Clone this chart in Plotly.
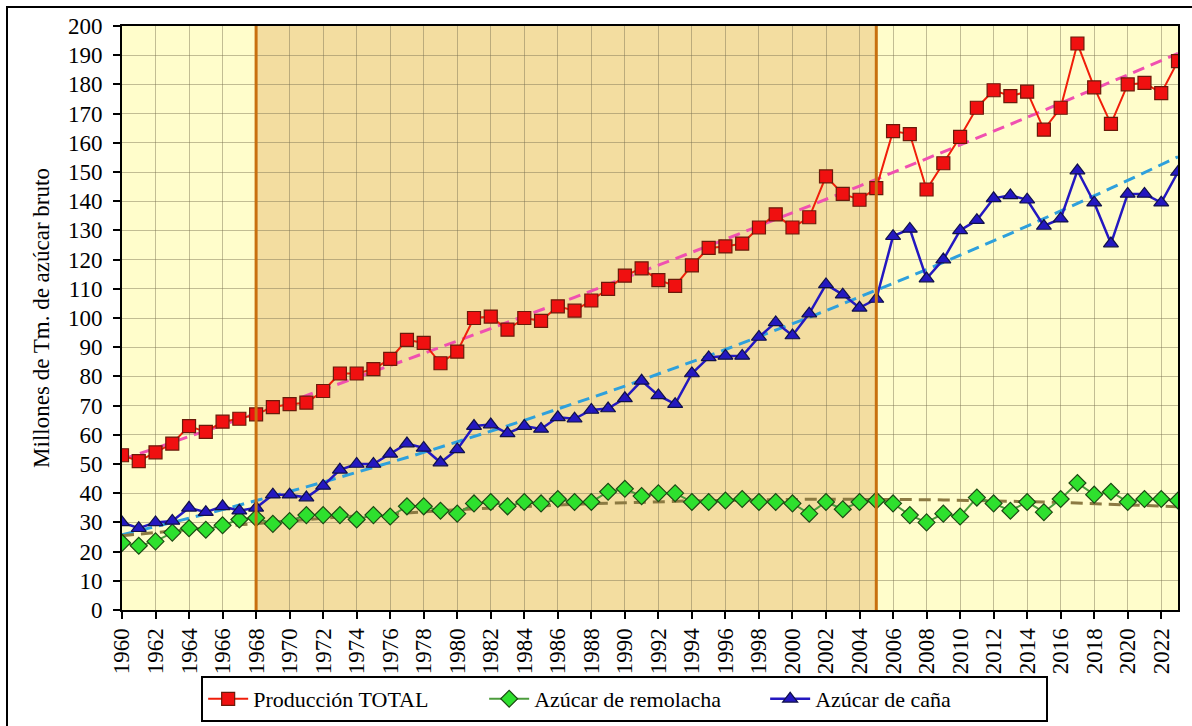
import numpy as np
import plotly.graph_objects as go

years = list(range(1960, 2024))

total = [53, 51, 54, 57, 63, 61, 64.5, 65.5, 67, 69.5,
         70.5, 71, 75, 81, 81, 82.5, 86, 92.5, 91.5, 84.5,
         88.5, 100, 100.5, 96, 100, 99, 104, 102.5, 106, 110,
         114.5, 117, 113, 111, 118, 124, 124.5, 125.5, 131, 135.5,
         131, 134.5, 148.5, 142.5, 140.5, 144.5, 164, 163, 144, 153,
         162, 172, 178, 176, 177.5, 164.5, 172, 194, 179, 166.5,
         180, 180.5, 177, 188]

cane = [30, 28, 30, 30.5, 35, 33.5, 35.5, 34, 35, 39.5,
        39.5, 38.5, 42.5, 48, 50, 50, 53.5, 57, 55.5, 50.5,
        55, 63, 63.5, 60.5, 63, 62, 66, 65.5, 68.5, 69,
        72.5, 78.5, 73.5, 70.5, 81, 86.5, 87, 87, 93.5, 98.5,
        94, 101.5, 111.5, 108, 103.5, 106.5, 128, 130.5, 113.5, 120,
        130, 133.5, 141, 142, 140.5, 131.5, 134, 150.5, 139.5, 125.5,
        142.5, 142.5, 139.5, 150]

beet = [23, 22, 23.5, 26.5, 28, 27.5, 29, 31, 31.5, 29.5,
        30.5, 32.5, 32.5, 32.5, 31, 32.5, 32, 35.5, 35.5, 34,
        33, 36.5, 37, 35.5, 37, 36.5, 38, 37, 37, 40.5,
        41.5, 39, 40, 40, 37, 37, 37.5, 38, 37, 37,
        36.5, 33, 37, 34.5, 37, 37.5, 36.5, 32.5, 30, 33,
        32, 38.5, 36.5, 34, 37, 33.5, 38, 43.5, 39.5, 40.5,
        37, 38, 38, 37.5]

period_marks = [1968, 2005]
x_ticks = list(range(1960, 2023, 2))
y_ticks = list(range(0, 201, 10))

series_names = ["Producción TOTAL", "Azúcar de remolacha", "Azúcar de caña"]

x = np.array(years, dtype=float)


def trend(vals, deg=2):
    c = np.polyfit(x, np.array(vals, dtype=float), deg)
    return np.polyval(c, x)


DASH = "12px,7px"
fig = go.Figure()

# trend lines (below series)
fig.add_trace(go.Scatter(x=years, y=trend(total), mode="lines", showlegend=False,
                         line=dict(color="#F050B0", width=3, dash=DASH), hoverinfo="skip"))
fig.add_trace(go.Scatter(x=years, y=trend(cane), mode="lines", showlegend=False,
                         line=dict(color="#2EA0DC", width=3, dash=DASH), hoverinfo="skip"))
fig.add_trace(go.Scatter(x=years, y=trend(beet), mode="lines", showlegend=False,
                         line=dict(color="#8C7A42", width=3, dash=DASH), hoverinfo="skip"))

fig.add_trace(go.Scatter(x=years, y=total, mode="lines+markers", name=series_names[0],
                         line=dict(color="#F01E0A", width=2),
                         marker=dict(symbol="square", size=13, color="#F01010",
                                     line=dict(color="#6A1A0A", width=1.2))))
fig.add_trace(go.Scatter(x=years, y=beet, mode="lines+markers", name=series_names[1],
                         line=dict(color="#4C9C3C", width=2),
                         marker=dict(symbol="diamond", size=13, color="#2EE02E",
                                     line=dict(color="#1E4A14", width=1.2))))
fig.add_trace(go.Scatter(x=years, y=cane, mode="lines+markers", name=series_names[2],
                         line=dict(color="#2418C0", width=2.5),
                         marker=dict(symbol="triangle-up", size=13, color="#2418C0",
                                     line=dict(color="#10104A", width=1.2))))

shapes = [
    dict(type="rect", xref="x", yref="paper", x0=1960, x1=period_marks[0], y0=0, y1=1,
         fillcolor="#FFFDCB", line=dict(width=0), layer="below"),
    dict(type="rect", xref="x", yref="paper", x0=period_marks[0], x1=period_marks[1], y0=0, y1=1,
         fillcolor="#F3DDA0", line=dict(width=0), layer="below"),
    dict(type="rect", xref="x", yref="paper", x0=period_marks[1], x1=2023, y0=0, y1=1,
         fillcolor="#FFFDCB", line=dict(width=0), layer="below"),
]
for pm in period_marks:
    shapes.append(dict(type="line", xref="x", yref="paper", x0=pm, x1=pm, y0=0, y1=1,
                       line=dict(color="#C8700F", width=3), layer="above"))
# outer frame (only left & top edges fall inside the picture)
shapes.append(dict(type="rect", xref="paper", yref="paper",
                   x0=(7 - 122) / 1056, x1=(1210 - 122) / 1056,
                   y0=(610 - 740) / 584, y1=(610 - 7) / 584,
                   line=dict(color="black", width=2), fillcolor="rgba(0,0,0,0)", layer="above"))

fig.update_layout(
    width=1192, height=726,
    margin=dict(l=122, r=14, t=26, b=116, autoexpand=False),
    paper_bgcolor="white",
    plot_bgcolor="#FFFDCB",
    font=dict(family="Liberation Serif", color="black", size=23),
    shapes=shapes,
    showlegend=True,
    legend=dict(orientation="h", x=0.476, xanchor="center", y=-0.113, yanchor="top",
                bordercolor="black", borderwidth=2, bgcolor="white",
                font=dict(family="Liberation Serif", size=22),
                entrywidth=226, entrywidthmode="pixels",
                itemwidth=40, tracegroupgap=0),
)

fig.update_xaxes(range=[1960, 2023], tickmode="array", tickvals=x_ticks,
                 ticktext=[str(t) for t in x_ticks], tickangle=-90,
                 ticks="outside", ticklen=7, tickwidth=2, tickcolor="black",
                 showline=True, linecolor="black", linewidth=2, mirror=True,
                 showgrid=True, gridcolor="rgba(120,110,80,0.45)", gridwidth=1,
                 zeroline=False, tickfont=dict(size=23))
fig.update_yaxes(range=[0, 200], tickmode="array", tickvals=y_ticks,
                 ticks="outside", ticklen=7, tickwidth=2, tickcolor="black",
                 showline=True, linecolor="black", linewidth=2, mirror=True,
                 showgrid=True, gridcolor="rgba(120,110,80,0.45)", gridwidth=1,
                 zeroline=False, tickfont=dict(size=23), ticklabelstandoff=6,
                 title=dict(text="Millones de Tm. de azúcar bruto", font=dict(size=23), standoff=12))

fig.write_html("out.html", post_script="document.body.style.margin='0';",
               config={"displayModeBar": False})
